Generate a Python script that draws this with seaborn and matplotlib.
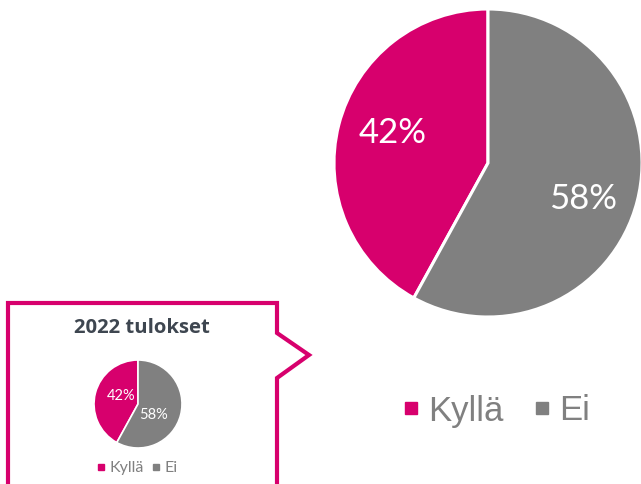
import matplotlib
matplotlib.use("Agg")
import matplotlib.pyplot as plt
from matplotlib.lines import Line2D
from matplotlib.patches import Polygon
import seaborn as sns

sns.set_theme(style="white")
plt.rcParams['font.family'] = ['Lato', 'DejaVu Sans']

categories = ["Kyllä", "Ei"]
values = [42, 58]
inset_title = "2022 tulokset"
colors = ["#D7006D", "#808080"]
title_color = "#3E4650"

W, H = 641, 484
fig = plt.figure(figsize=(W / 100, H / 100), dpi=100)
fig.patch.set_facecolor("white")


def px_axes(cx, cy, r):
    return fig.add_axes([(cx - r) / W, (H - cy - r) / H, 2 * r / W, 2 * r / H])


# Big pie
ax = px_axes(488, 163, 154)
wedges, texts, autos = ax.pie(values, colors=colors, startangle=90, counterclock=True,
                              autopct=lambda p: f"{p:.0f}%", pctdistance=0.6,
                              wedgeprops=dict(edgecolor="white", linewidth=2.2),
                              textprops=dict(color="white", fontsize=25, fontweight="normal"))
autos[0].set_position((-0.62, 0.195))
autos[1].set_position((0.617, -0.234))
ax.set_xlim(-1, 1)
ax.set_ylim(-1, 1)
ax.set_aspect("equal")
ax.axis("off")

# Big legend
handles = [Line2D([], [], marker="s", linestyle="", markersize=9, color=c) for c in colors]
fig.legend(handles, categories, loc="center", bbox_to_anchor=(495 / W, 1 - 411 / H),
           ncol=2, frameon=False, labelcolor="#808080",
           prop=dict(family=["Liberation Sans"], size=25),
           handletextpad=0.2, columnspacing=0.8, handlelength=0.6)

# Callout box
bg = fig.add_axes([0, 0, 1, 1], zorder=1)
bg.set_xlim(0, W)
bg.set_ylim(H, 0)
bg.axis("off")
pts = [(8, 303), (277, 303), (277, 333), (309, 355), (277, 378), (277, 492), (8, 492)]
bg.add_patch(Polygon(pts, closed=True, facecolor="white", edgecolor="#D7006D",
                     linewidth=3, joinstyle="miter"))
bg.text(142, 328, inset_title, ha="center", va="center", fontsize=14.6,
        fontweight="bold", color=title_color, family=["Open Sans", "DejaVu Sans"])

# Small pie
ax2 = px_axes(138, 404, 44)
ax2.set_zorder(2)
w2, t2, a2 = ax2.pie(values, colors=colors, startangle=90, counterclock=True,
                     autopct=lambda p: f"{p:.0f}%", pctdistance=0.6,
                     wedgeprops=dict(edgecolor="white", linewidth=1.2),
                     textprops=dict(color="white", fontsize=10.5, fontweight="normal"))
a2[0].set_position((-0.375, 0.18))
a2[1].set_position((0.36, -0.25))
ax2.set_xlim(-1, 1)
ax2.set_ylim(-1, 1)
ax2.set_aspect("equal")
ax2.axis("off")

handles2 = [Line2D([], [], marker="s", linestyle="", markersize=4, color=c) for c in colors]
leg2 = bg.legend(handles2, categories, loc="center", bbox_to_anchor=(137 / W, 1 - 468 / H),
                 bbox_transform=fig.transFigure, ncol=2, frameon=False,
                 prop=dict(family=["Lato"], size=11.5),
                 labelcolor="#808080", handletextpad=0.2, columnspacing=0.5,
                 handlelength=0.6)

fig.savefig("out.png", dpi=100, facecolor="white")
